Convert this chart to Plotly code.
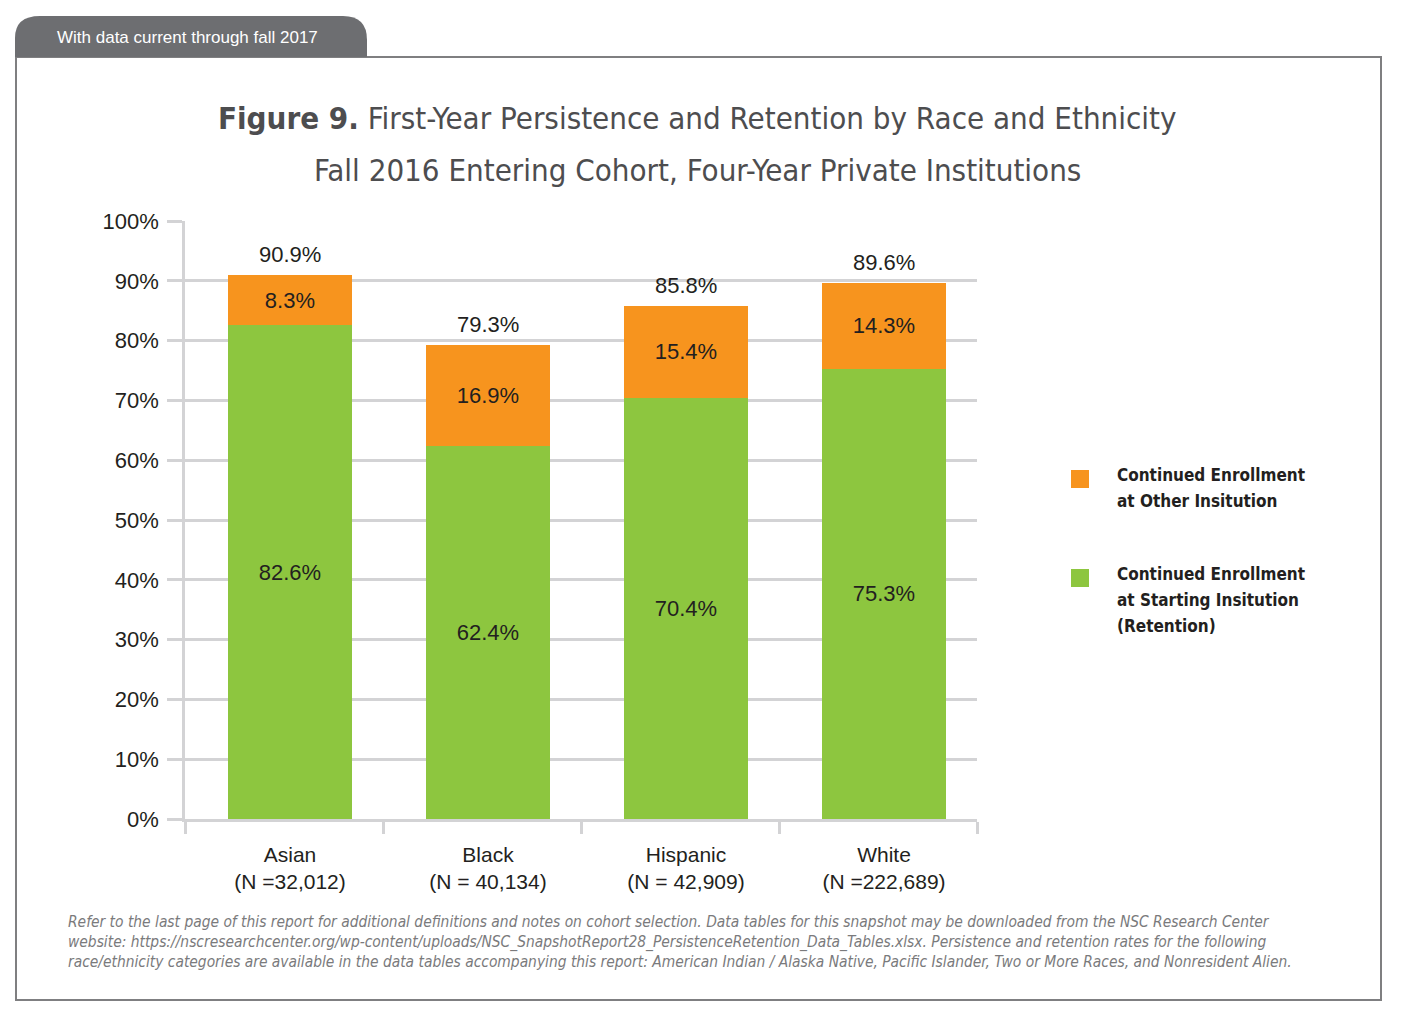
import plotly.graph_objects as go

W, H = 1402, 1016

categories = ["Asian", "Black", "Hispanic", "White"]
n_labels = ["(N =32,012)", "(N = 40,134)", "(N = 42,909)", "(N =222,689)"]
retention = [82.6, 62.4, 70.4, 75.3]
other_inst = [8.3, 16.9, 15.4, 14.3]
totals = [90.9, 79.3, 85.8, 89.6]
series_names = ["Continued Enrollment<br>at Starting Insitution<br>(Retention)",
                "Continued Enrollment<br>at Other Insitution"]
y_ticks = [0, 10, 20, 30, 40, 50, 60, 70, 80, 90, 100]
y_tick_text = [f"{v}%" for v in y_ticks]
title_lines = ["<b>Figure 9.</b> First-Year Persistence and Retention by Race and Ethnicity",
               "Fall 2016 Entering Cohort, Four-Year Private Institutions"]

GREEN = "#8DC63F"
ORANGE = "#F7941E"
GRID = "#D3D3D5"
TXT = "#231F20"
BASE_FONT = "Liberation Sans, Arial, sans-serif"
NARROW = "DejaVu Sans Condensed, Liberation Sans, sans-serif"


def px(x):
    return x / W


def py(y):
    return 1 - y / H


BAR_W = 0.63
SHIFT = 0.03

fig = go.Figure()
fig.add_trace(go.Bar(
    x=categories, y=retention, name=series_names[0],
    marker=dict(color=GREEN, line=dict(width=0)),
    width=BAR_W, offset=-BAR_W / 2 + SHIFT,
    text=[f"{v:.1f}%" for v in retention], textposition="inside",
    insidetextanchor="middle", textangle=0, constraintext="none",
    textfont=dict(family=BASE_FONT, size=22, color=TXT),
    showlegend=False, hoverinfo="skip",
))
fig.add_trace(go.Bar(
    x=categories, y=other_inst, name=series_names[1],
    marker=dict(color=ORANGE, line=dict(width=0)),
    width=BAR_W, offset=-BAR_W / 2 + SHIFT,
    text=[f"{v:.1f}%" for v in other_inst], textposition="inside",
    insidetextanchor="middle", textangle=0, constraintext="none",
    textfont=dict(family=BASE_FONT, size=22, color=TXT),
    showlegend=False, hoverinfo="skip",
))

annotations = []
for i, t in enumerate(totals):
    annotations.append(dict(
        x=i + SHIFT, y=t, xref="x", yref="y", text=f"{t:.1f}%",
        showarrow=False, yanchor="bottom", yshift=6,
        font=dict(family=BASE_FONT, size=22, color=TXT),
    ))

# title (two lines, separately placed for line spacing)
for line, yc in zip(title_lines, [118, 170]):
    annotations.append(dict(
        x=px(697), y=py(yc), xref="paper", yref="paper", xanchor="center", yanchor="middle",
        text=line, showarrow=False, align="center",
        font=dict(family=NARROW, size=31, color="#4D4D4F"),
    ))

# tab text
annotations.append(dict(
    x=px(55), y=py(37), xref="paper", yref="paper", xanchor="left", yanchor="middle",
    text="With data current through fall 2017", showarrow=False,
    font=dict(family=BASE_FONT, size=17, color="#FFFFFF"),
))

# legend (manual)
legend_items = [(ORANGE, series_names[1], 470), (GREEN, series_names[0], 569)]
shapes = []
for color, label, top in legend_items:
    shapes.append(dict(type="rect", xref="paper", yref="paper",
                       x0=px(1071), x1=px(1089), y0=py(top), y1=py(top + 18),
                       fillcolor=color, line=dict(width=0)))
    for k, part in enumerate(label.split("<br>")):
        annotations.append(dict(
            x=px(1115), y=py(top + 5 + 26 * k), xref="paper", yref="paper",
            xanchor="left", yanchor="middle",
            text=f"<b>{part}</b>", showarrow=False, align="left",
            font=dict(family=NARROW, size=17, color=TXT),
        ))

# footnote
annotations.append(dict(
    x=px(66), y=py(911), xref="paper", yref="paper", xanchor="left", yanchor="top",
    text="<i>Refer to the last page of this report for additional definitions and notes on cohort selection. Data tables for this snapshot may be downloaded from the NSC Research Center<br>"
         "website: https://nscresearchcenter.org/wp-content/uploads/NSC_SnapshotReport28_PersistenceRetention_Data_Tables.xlsx. Persistence and retention rates for the following<br>"
         "race/ethnicity categories are available in the data tables accompanying this report: American Indian / Alaska Native, Pacific Islander, Two or More Races, and Nonresident Alien.</i>",
    showarrow=False, align="left",
    font=dict(family=NARROW, size=15.4, color="#7A7A7C"),
))

# frame and tab
shapes.append(dict(type="rect", xref="paper", yref="paper",
                   x0=px(16), x1=px(1381), y0=py(1000), y1=py(57),
                   line=dict(color="#7F7F81", width=2), fillcolor="rgba(0,0,0,0)", layer="below"))
tab_path = (f"M {px(15)},{py(57)} L {px(15)},{py(38)} Q {px(15)},{py(16)} {px(40)},{py(16)} "
            f"L {px(343)},{py(16)} Q {px(367)},{py(16)} {px(367)},{py(40)} L {px(367)},{py(57)} Z")
shapes.append(dict(type="path", xref="paper", yref="paper", path=tab_path,
                   fillcolor="#6D6E71", line=dict(width=0)))

fig.update_layout(
    width=W, height=H, barmode="stack",
    margin=dict(l=0, r=0, t=0, b=0, pad=0),
    paper_bgcolor="white", plot_bgcolor="white",
    showlegend=False,
    annotations=annotations, shapes=shapes,
    font=dict(family=BASE_FONT, color=TXT),
    xaxis=dict(
        domain=[px(185), px(977)], range=[-0.5, 3.5],
        tickmode="array", tickvals=categories,
        ticktext=[f"{c}<br>{n}" for c, n in zip(categories, n_labels)],
        tickson="boundaries", ticks="outside", ticklen=12, tickwidth=2.5, tickcolor=GRID,
        showline=True, linecolor=GRID, linewidth=2.5, showgrid=False, zeroline=False,
        tickfont=dict(family=BASE_FONT, size=21, color=TXT),
        ticklabelstandoff=15, ticklabelshift=6, automargin=False, fixedrange=True,
    ),
    yaxis=dict(
        domain=[py(819), py(221)], range=[0, 100],
        tickmode="array", tickvals=y_ticks, ticktext=y_tick_text,
        ticks="outside", ticklen=15, tickwidth=2.5, tickcolor=GRID,
        showline=True, linecolor=GRID, linewidth=2.5,
        showgrid=True, gridcolor=GRID, gridwidth=2.5, zeroline=False,
        tickfont=dict(family=BASE_FONT, size=22, color=TXT),
        ticklabelstandoff=4, automargin=False, fixedrange=True,
    ),
)

fig.write_html("out.html", config={"displayModeBar": False},
               post_script="document.body.style.margin='0';document.body.style.overflow='hidden';")
